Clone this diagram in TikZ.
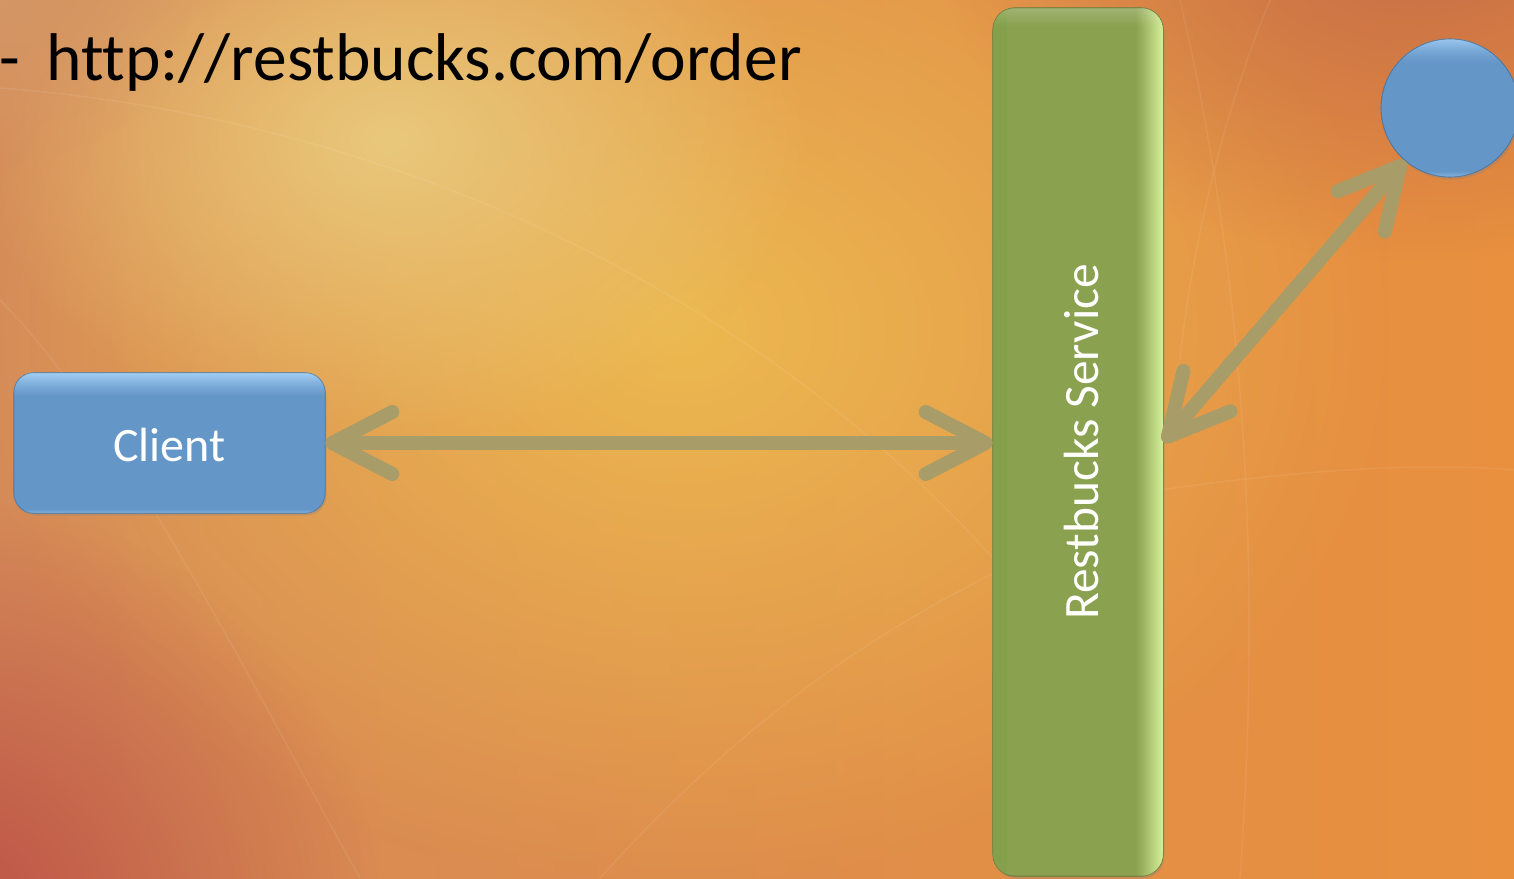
\documentclass[tikz,border=0pt]{standalone}
\usepackage{fontspec}
\setmainfont{Carlito}[Ligatures=NoCommon]
\usetikzlibrary{arrows.meta,shadows,fadings}
\definecolor{arrowc}{HTML}{A89C68}
\definecolor{clientc}{HTML}{6496C8}
\definecolor{clienthi}{HTML}{A8D4F8}
\definecolor{svcc}{HTML}{8AA14F}
\definecolor{svcdk}{HTML}{84A04B}
\definecolor{svchi}{HTML}{D4EE98}
\definecolor{bgL}{HTML}{D58A58}
\definecolor{bgR}{HTML}{E8903E}
\definecolor{glowA}{HTML}{EDB950}
\definecolor{glowB}{HTML}{E9C87C}
\definecolor{darkTR}{HTML}{C76E48}
\definecolor{redBL}{HTML}{BC5046}
\definecolor{tanTL}{HTML}{D49A6A}
\tikzfading[name=softglow, inner color=transparent!0, outer color=transparent!100]
\tikzset{
  arrhead/.tip={Straight Barb[length=60pt,width=62pt,line cap=round,line join=round]},
  conn/.style={draw=arrowc, line width=14pt, arrows={arrhead-arrhead}},
  boxshadow/.style={drop shadow={opacity=0.3,shadow xshift=1.5pt,shadow yshift=-2.5pt}},
  clientbox/.style={rectangle, rounded corners=20pt, fill=clientc, draw=clientc!85!black, line width=0.6pt,
    minimum width=311pt, minimum height=140pt, inner sep=0pt, boxshadow},
  svcbox/.style={rectangle, rounded corners=22pt, fill=svcc, draw=svcc!80!black, line width=0.6pt,
    minimum width=170pt, minimum height=868pt, inner sep=0pt, boxshadow},
  circbox/.style={circle, fill=clientc, draw=clientc!80!black, line width=0.6pt, minimum size=138pt, inner sep=0pt, boxshadow},
  labeltext/.style={text=white, inner sep=0pt},
  faint/.style={draw=white, opacity=0.07, line width=1.5pt}
}
\begin{document}
\begin{tikzpicture}[x=1pt,y=-1pt]
\useasboundingbox (0,0) rectangle (1514,878);
\begin{scope}
\clip (0,0) rectangle (1514,878);
% background
\shade[left color=bgL, right color=bgR] (0,0) rectangle (1514,878);
\fill[glowA, path fading=softglow] (680,330) ellipse [x radius=720, y radius=560];
\fill[glowB, path fading=softglow] (390,140) ellipse [x radius=420, y radius=300];
\fill[darkTR, path fading=softglow] (1420,-60) ellipse [x radius=480, y radius=320];
\fill[redBL, path fading=softglow] (-60,920) ellipse [x radius=440, y radius=420];
\fill[tanTL, path fading=softglow] (-40,-30) ellipse [x radius=260, y radius=200];
% faint arcs
\draw[faint] (0,88) .. controls (420,120) and (820,320) .. (1060,640);
\draw[faint] (0,300) .. controls (120,420) and (260,700) .. (360,878);
\draw[faint] (1180,0) .. controls (1250,300) and (1260,600) .. (1240,878);
\draw[faint] (1270,0) .. controls (1220,120) and (1190,260) .. (1180,360);
\draw[faint] (1160,490) .. controls (1300,470) and (1420,462) .. (1514,470);
\draw[faint] (600,878) .. controls (760,700) and (900,620) .. (1000,570);
% circle
\node[circbox] (circ) at (1450,108) {};
\begin{scope}
\clip (circ.center) circle [radius=69];
\foreach \i in {0,...,25}{
  \pgfmathsetmacro\op{0.8*(1-\i/26)^1.6}
  \fill[clienthi, opacity=\op] (circ.center) ++(-70,-69+\i) rectangle ++(140,1.05);
}
\foreach \i in {0,...,5}{
  \pgfmathsetmacro\op{0.5*(\i/6)}
  \fill[clienthi, opacity=\op] (circ.center) ++(-70,63+\i) rectangle ++(140,1.05);
}
\end{scope}
\draw[clientc!80!black, line width=0.6pt] (circ.center) circle [radius=69];
\end{scope}
% title
\node[anchor=base west, font=\fontsize{67.5}{80}\selectfont, text=black, inner sep=0pt] (title) at (46,80) {\llap{-\hspace{0.385em}}http://restbucks.com/order};
% client
\node[clientbox] (client) at (169.5,443) {};
\begin{scope}
\clip[rounded corners=20pt] (client.north west) rectangle (client.south east);
\foreach \i in {0,...,23}{
  \pgfmathsetmacro\op{0.9*(1-\i/24)^1.3}
  \fill[clienthi, opacity=\op] (client.north west) ++(0,\i) rectangle ++(311,1.05);
}
\foreach \i in {0,...,3}{
  \pgfmathsetmacro\op{0.45*(\i/4)}
  \fill[clienthi, opacity=\op] (client.south west) ++(0,-4+\i) rectangle ++(311,1.05);
}
\end{scope}
\draw[clientc!85!black, line width=0.6pt, rounded corners=20pt] (client.north west) rectangle (client.south east);
\node[labeltext, font=\fontsize{48}{58}\selectfont] (clientlabel) at ([yshift=-2pt]client.center) {Client};
% service
\node[svcbox] (service) at (1078,442) {};
\begin{scope}
\clip[rounded corners=22pt] (service.north west) rectangle (service.south east);
\fill[svcdk] (service.north west) rectangle ++(14,868);
\foreach \i in {0,...,27}{
  \pgfmathsetmacro\op{(\i/27)^1.1}
  \fill[svchi, opacity=\op] (service.north east) ++(-28+\i,0) rectangle ++(1.05,868);
}
\foreach \i in {0,...,17}{
  \pgfmathsetmacro\op{0.2*(1-\i/18)}
  \fill[white, opacity=\op] (service.north west) ++(0,\i) rectangle ++(170,1.05);
}
\end{scope}
\draw[svcc!80!black, line width=0.6pt, rounded corners=22pt] (service.north west) rectangle (service.south east);
\node[labeltext, rotate=90, font=\fontsize{49.5}{59}\selectfont] (svclabel) at ([xshift=3pt]service.center) {Restbucks Service};
% connectors
\draw[conn] (client.east) -- (client.east -| service.west);
\draw[conn] (service.east) -- (circ);
\end{tikzpicture}
\end{document}
